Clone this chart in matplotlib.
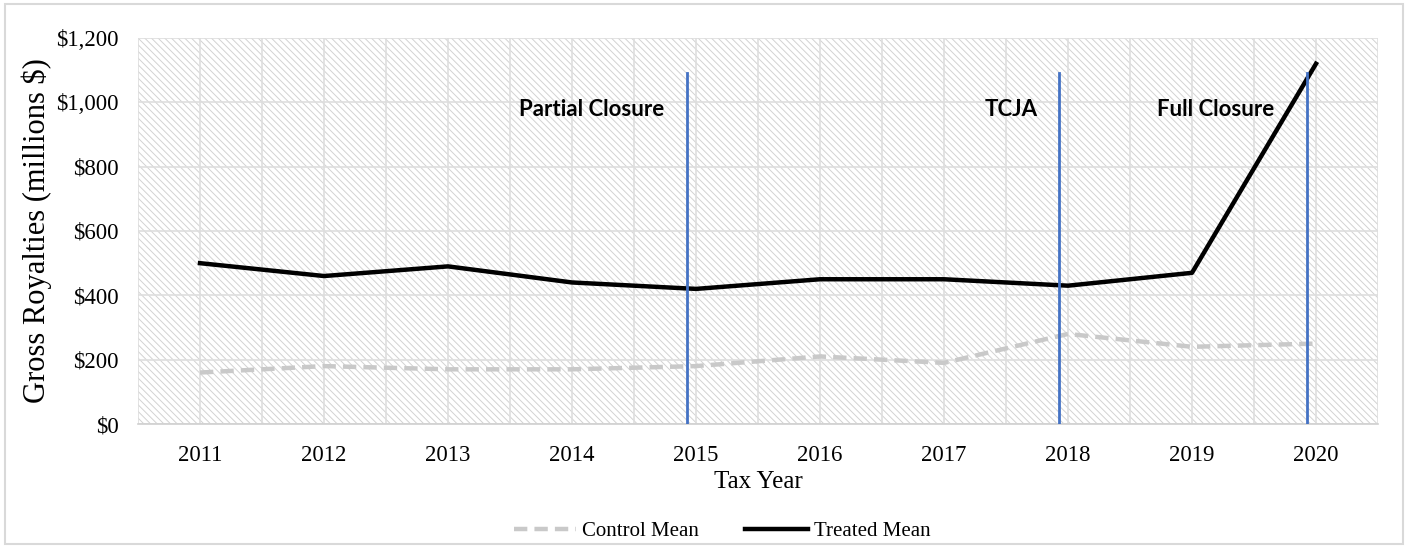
import numpy as np
import matplotlib
matplotlib.use('Agg')
import matplotlib.pyplot as plt
from matplotlib.patches import Rectangle
from matplotlib.lines import Line2D
from matplotlib.ticker import FuncFormatter, MultipleLocator

years = [2011, 2012, 2013, 2014, 2015, 2016, 2017, 2018, 2019, 2020]
treated = [500, 460, 490, 440, 420, 450, 450, 430, 470, 1120]
control = [160, 180, 170, 170, 180, 210, 190, 280, 240, 250]
events = ['Partial Closure', 'TCJA', 'Full Closure']
event_years = [2015, 2018, 2020]
event_top = 1090

plt.rcParams['hatch.linewidth'] = 0.7

fig = plt.figure(figsize=(14.09, 5.49), dpi=100)
ax = fig.add_axes([138/1409, 1 - 424/549, 1240/1409, 386/549])

# hatched plot background
ax.add_patch(Rectangle((0, 0), 1, 1, transform=ax.transAxes, facecolor='white',
                       edgecolor='#d2d2d2', linewidth=0, hatch='\\\\\\\\\\', zorder=0))

x = np.arange(len(years))
dash = (0, (3.0, 1.6))
ax.plot(x, control, color='#c9c9c9', lw=3.2, ls=dash, zorder=3)
ax.plot(x, treated, color='black', lw=3.2, zorder=4)

for yr in event_years:
    xi = years.index(yr) - 0.07
    ax.plot([xi, xi], [0, event_top], color='#4472C4', lw=2.0, zorder=5)

label_pos = [3.16, 6.54, 8.19]
for lbl, xp in zip(events, label_pos):
    ax.text(xp, 978, lbl, fontsize=16, fontweight='bold', family='Lato',
            ha='center', va='center', zorder=6)

ax.set_xlim(-0.5, len(years) - 0.5)
ax.set_ylim(0, 1200)
ax.set_xticks(x)
ax.set_xticklabels([str(y) for y in years], family='Liberation Serif', fontsize=16.5)
ax.xaxis.set_minor_locator(MultipleLocator(0.5))
ax.yaxis.set_major_locator(MultipleLocator(200))
ax.yaxis.set_major_formatter(FuncFormatter(lambda v, p: f'${v:,.0f}'))
for t in ax.get_yticklabels():
    t.set_family('Liberation Serif')
    t.set_fontsize(16.5)
ax.tick_params(axis='x', which='both', length=0, pad=15)
ax.tick_params(axis='y', which='both', length=0, pad=14)
ax.grid(True, which='both', axis='x', color='#dedede', lw=1.2, zorder=1)
ax.grid(True, which='major', axis='y', color='#dedede', lw=1.2, zorder=1)
ax.set_axisbelow(True)
for s in ['top', 'right', 'left']:
    ax.spines[s].set_visible(False)
ax.spines['bottom'].set_color('#d0d0d0')
ax.spines['bottom'].set_linewidth(1.2)

ax.set_xlabel('Tax Year', family='Liberation Serif', fontsize=18, labelpad=4)
ax.set_ylabel('Gross Royalties (millions $)', family='Liberation Serif', fontsize=22,
              labelpad=3)

handles = [Line2D([], [], color='#c9c9c9', lw=3.2, ls=dash),
           Line2D([], [], color='black', lw=3.2)]
fig.legend(handles, ['Control Mean', 'Treated Mean'], loc='center',
           bbox_to_anchor=(722/1409, 1 - 531/549), ncol=2, frameon=False,
           prop={'family': 'Liberation Serif', 'size': 15}, handlelength=3.0,
           columnspacing=2.2, handletextpad=0.3)

# outer chart border
fig.add_artist(Rectangle((5/1409, 5/549), 1398/1409, 540/549, transform=fig.transFigure,
                         fill=False, edgecolor='#d9d9d9', lw=1.5))

fig.savefig('out.png', dpi=100)
